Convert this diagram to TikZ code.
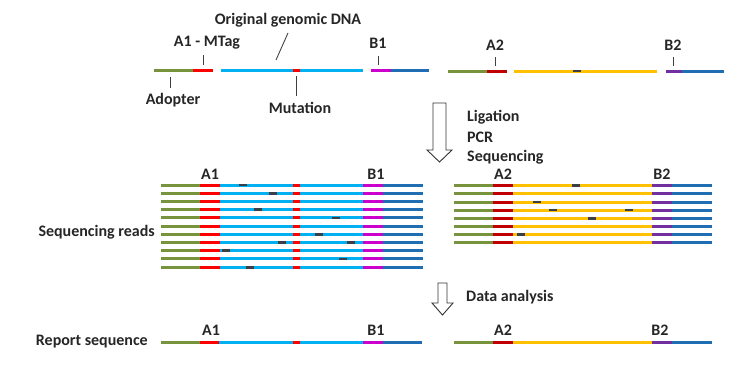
\documentclass[tikz,border=0pt]{standalone}
\usepackage{fontspec}
\setmainfont{Carlito}[BoldFont={Carlito Bold}]
\definecolor{cgreen}{HTML}{77933C}
\definecolor{cred}{HTML}{FF0000}
\definecolor{cdred}{HTML}{C00000}
\definecolor{ccyan}{HTML}{00B0F0}
\definecolor{cmag}{HTML}{CC00CC}
\definecolor{cblue}{HTML}{1F6EB4}
\definecolor{cpurple}{HTML}{7030A0}
\definecolor{cyellow}{HTML}{FFC000}
\definecolor{cmark}{HTML}{3A3F48}
\definecolor{ctick}{HTML}{404040}
\tikzset{
  seg/.style={line width=3pt, line cap=butt},
  lbl/.style={font=\fontsize{16}{18}\selectfont\bfseries, inner sep=0pt, text=black!85},
  tick/.style={ctick, line width=0.9pt},
  blockarrow/.style={draw=black!80, line width=0.9pt, fill=white, line join=miter}
}
\newcommand{\leftread}[7]{% y, green start, red start, cyan start, cyan end, magenta end, blue end
  \draw[seg,cgreen] (#2,#1) -- (#3,#1);
  \draw[seg,cred] (#3,#1) -- (#4,#1);
  \draw[seg,ccyan] (#4,#1) -- (#5,#1);
  \draw[seg,cred] (293,#1) -- (300,#1);
  \draw[seg,cmag] (#5,#1) -- (#6,#1);
  \draw[seg,cblue] (#6,#1) -- (#7,#1);
}
\newcommand{\rightread}[1]{% y
  \draw[seg,cgreen] (454,#1) -- (493,#1);
  \draw[seg,cdred] (493,#1) -- (513,#1);
  \draw[seg,cyellow] (513,#1) -- (652,#1);
  \draw[seg,cpurple] (652,#1) -- (672,#1);
  \draw[seg,cblue] (672,#1) -- (712,#1);
}
\newcommand{\mk}[2]{\draw[cmark, line width=2.6pt] (#1-4,#2) -- (#1+4,#2);}
\begin{document}
\begin{tikzpicture}[x=1pt,y=-1pt]
\useasboundingbox[fill=white] (0,0) rectangle (739,367);

% ---------- top row ----------
% left construct
\draw[seg,cgreen] (154,70) -- (193,70);
\draw[seg,cred] (193,70) -- (213,70);
\draw[seg,ccyan] (221,70) -- (363,70);
\draw[seg,cred] (293,70) -- (300,70);
\draw[seg,cmag] (371,70) -- (391,70);
\draw[seg,cblue] (391,70) -- (429,70);
% right construct
\draw[seg,cgreen] (448,71) -- (487,71);
\draw[seg,cdred] (487,71) -- (507,71);
\draw[seg,cyellow] (514,71) -- (657,71);
\mk{576.5}{71}
\draw[seg,cpurple] (666,71) -- (682,71);
\draw[seg,cblue] (682,71) -- (724,71);

% top labels
\node[lbl] (ogd) at (288,20) {Original genomic DNA};
\node[lbl] (a1m) at (207,43) {A1 - MTag};
\node[lbl] (b1t) at (378,43) {B1};
\node[lbl] (a2t) at (495,45) {A2};
\node[lbl] (b2t) at (673,45) {B2};
\node[lbl] (adop) at (173,100) {Adopter};
\node[lbl] (mut) at (300,108) {Mutation};

\coordinate (ogdS) at (288,33);  \coordinate (ogdE) at (276,60);
\coordinate (a1mS) at (203,55);  \coordinate (a1mE) at (203,65);
\coordinate (b1tS) at (378,56);  \coordinate (b1tE) at (378,65);
\coordinate (a2tS) at (495,57);  \coordinate (a2tE) at (495,66);
\coordinate (b2tS) at (673,57);  \coordinate (b2tE) at (673,66);
\coordinate (adopS) at (170,77); \coordinate (adopE) at (170,88);
\coordinate (mutS) at (296,76);  \coordinate (mutE) at (296,96);
\draw[tick] (ogdS) -- (ogdE);
\draw[tick] (a1mS) -- (a1mE);
\draw[tick] (b1tS) -- (b1tE);
\draw[tick] (a2tS) -- (a2tE);
\draw[tick] (b2tS) -- (b2tE);
\draw[tick] (adopS) -- (adopE);
\draw[tick] (mutS) -- (mutE);

% ---------- arrow 1 ----------
\draw[blockarrow] (433,103) -- (446,103) -- (446,150) -- (452,150) -- (439.5,162) -- (427,150) -- (433,150) -- cycle;
\node[lbl, anchor=west] (lig) at (467,117) {Ligation};
\node[lbl, anchor=west] (pcr) at (467,137) {PCR};
\node[lbl, anchor=west] (seq) at (467,157) {Sequencing};

% ---------- sequencing reads ----------
\node[lbl] (a1r) at (210,174) {A1};
\node[lbl] (b1r) at (376,174) {B1};
\node[lbl] (a2r) at (503,174) {A2};
\node[lbl] (b2r) at (662,174) {B2};
\node[lbl, anchor=east] (sr) at (155,232) {Sequencing reads};

\foreach \i in {0,...,10}{
  \pgfmathsetmacro{\yy}{185+8.22*\i}
  \leftread{\yy}{161}{200}{220}{363}{383}{423}
}
\mk{243}{185}
\mk{273}{193.22}
\mk{258}{209.66}
\mk{336}{217.88}
\mk{319}{234.32}
\mk{282}{242.54}
\mk{351}{242.54}
\mk{226}{250.76}
\mk{343}{258.98}
\mk{250}{267.2}

\foreach \i in {0,...,7}{
  \pgfmathsetmacro{\yy}{185.7+8.15*\i}
  \rightread{\yy}
}
\mk{576}{185.7}
\mk{537}{202.0}
\mk{553}{210.15}
\mk{629}{210.15}
\mk{592}{218.3}
\mk{521}{234.6}

% ---------- arrow 2 ----------
\draw[blockarrow] (438,283) -- (447,283) -- (447,303) -- (453,303) -- (442.5,315) -- (432,303) -- (438,303) -- cycle;
\node[lbl, anchor=west] (da) at (466,297) {Data analysis};

% ---------- report sequence ----------
\node[lbl, anchor=east] (rs) at (148,342) {Report sequence};
\node[lbl] (a1b) at (211,330) {A1};
\node[lbl] (b1b) at (376,330) {B1};
\node[lbl] (a2b) at (503,330) {A2};
\node[lbl] (b2b) at (660,330) {B2};
\leftread{342}{161}{200}{219}{363}{383}{422}
\rightread{342}
\end{tikzpicture}
\end{document}
